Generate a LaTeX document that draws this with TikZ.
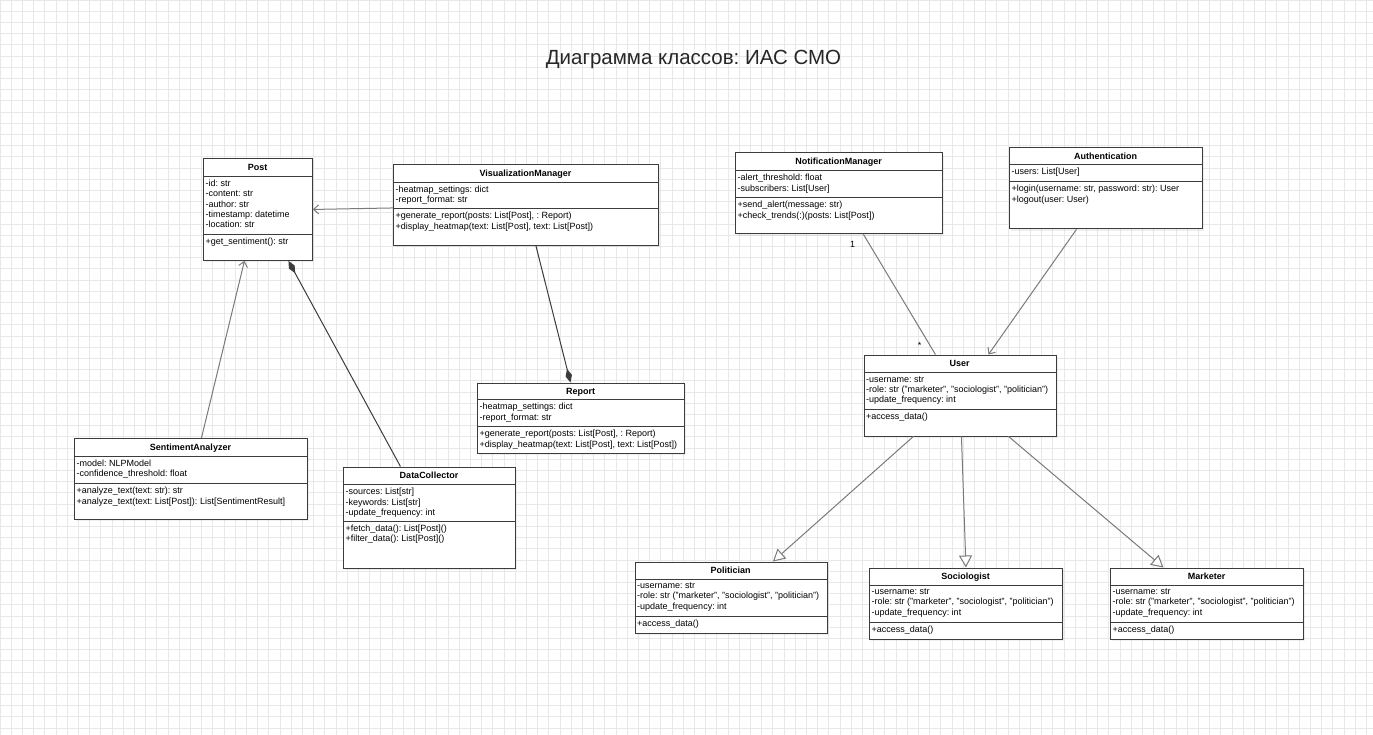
\documentclass[tikz,border=0pt]{standalone}
\usepackage{fontspec}
\setmainfont{Liberation Sans}
\usepackage{xcolor}
\usepackage{tikz}
\usetikzlibrary{
    arrows.meta,
    positioning,
    shadows
}
\frenchspacing
\definecolor{boxline}{HTML}{3C3C3C}
\definecolor{linkgray}{HTML}{7A7A7A}
\definecolor{gridgray}{HTML}{E8E8E8}
\tikzset{
    classbox/.style={
        draw=boxline,
        line width=0.9pt,
        fill=white,
        anchor=north west,
        inner sep=0pt,
        drop shadow={shadow xshift=2pt, shadow yshift=-2pt, opacity=0.12}
    }
}
\tikzset{
    classhead/.style={
        font=\fontsize{9}{10.4}\selectfont\bfseries,
        inner sep=0pt,
        text height=6.5pt,
        text depth=1.9pt,
        yshift=-0.8pt
    }
}
\tikzset{
    classtext/.style={
        font=\fontsize{9}{10.4}\selectfont,
        anchor=north west,
        align=left,
        inner sep=0pt
    }
}
\tikzset{
    sepline/.style={
        draw=boxline,
        line width=0.9pt
    }
}
\tikzset{
    assoc/.style={
        draw=linkgray,
        line width=1pt,
        -{Straight Barb[length=5pt, width=9pt]}
    }
}
\tikzset{
    plainlink/.style={
        draw=linkgray,
        line width=1pt
    }
}
\tikzset{
    composition/.style={
        draw=boxline,
        line width=1pt,
        -{Diamond[length=14pt, width=6.5pt]}
    }
}
\tikzset{
    generalization/.style={
        draw=linkgray,
        line width=1pt,
        -{Triangle[open, length=12pt, width=13pt, fill=white]}
    }
}

\begin{document}
\begin{tikzpicture}[
    x=1pt,
    y=-1pt
]

% ------------------------------------------------------------
% Canvas and grid
% ------------------------------------------------------------

\useasboundingbox (0,0) rectangle (1373,735);
\fill[white] (0,0) rectangle (1373,735);
\draw[gridgray, line width=0.9pt, step=11.2pt] (0,0) grid (1373,735);

\node[font=\fontsize{20.5}{24}\selectfont, text=black!85] (title) at (693.5,59)
    {Диаграмма классов: ИАС СМО};

% ------------------------------------------------------------
% Left part: posts and analysis
% ------------------------------------------------------------

\node[classbox, minimum width=109, minimum height=102] (post) at (203,158) {};
\node[classhead] (posthead) at (257.5,167) {Post};
\draw[sepline] (203,176) -- (312,176);
\draw[sepline] (203,234) -- (312,234);
\node[classtext] (postattr) at (205.5,179.5)
    {-id: str\\-content: str\\-author: str\\-timestamp: datetime\\-location: str};
\node[classtext] (postops) at (205.5,237.5) {+get\_sentiment(): str};

\node[classbox, minimum width=265, minimum height=81] (vizmgr) at (393,164) {};
\node[classhead] (vizmgrhead) at (525.5,173) {VisualizationManager};
\draw[sepline] (393,182) -- (658,182);
\draw[sepline] (393,208.5) -- (658,208.5);
\node[classtext] (vizmgrattr) at (395.5,185.5)
    {-heatmap\_settings: dict\\-report\_format: str};
\node[classtext] (vizmgrops) at (395.5,212)
    {+generate\_report(posts: List[Post], : Report)\\+display\_heatmap(text: List[Post], text: List[Post])};

\node[classbox, minimum width=207, minimum height=70.5] (report) at (477,382.5) {};
\node[classhead] (reporthead) at (580.5,391) {Report};
\draw[sepline] (477,399.5) -- (684,399.5);
\draw[sepline] (477,426.5) -- (684,426.5);
\node[classtext] (reportattr) at (479.5,403)
    {-heatmap\_settings: dict\\-report\_format: str};
\node[classtext] (reportops) at (479.5,430)
    {+generate\_report(posts: List[Post], : Report)\\+display\_heatmap(text: List[Post], text: List[Post])};

\node[classbox, minimum width=233, minimum height=81] (sentiment) at (74,438) {};
\node[classhead] (sentimenthead) at (190.5,447) {SentimentAnalyzer};
\draw[sepline] (74,456) -- (307,456);
\draw[sepline] (74,483.5) -- (307,483.5);
\node[classtext] (sentimentattr) at (76.5,459.5)
    {-model: NLPModel\\-confidence\_threshold: float};
\node[classtext] (sentimentops) at (76.5,487)
    {+analyze\_text(text: str): str\\+analyze\_text(text: List[Post]): List[SentimentResult]};

\node[classbox, minimum width=172, minimum height=101] (collector) at (343,466.5) {};
\node[classhead] (collectorhead) at (429,475.5) {DataCollector};
\draw[sepline] (343,484.5) -- (515,484.5);
\draw[sepline] (343,521) -- (515,521);
\node[classtext] (collectorattr) at (345.5,488)
    {-sources: List[str]\\-keywords: List[str]\\-update\_frequency: int};
\node[classtext] (collectorops) at (345.5,524.5)
    {+fetch\_data(): List[Post]()\\+filter\_data(): List[Post]()};

% ------------------------------------------------------------
% Right part: users and services
% ------------------------------------------------------------

\node[classbox, minimum width=207, minimum height=81] (notifmgr) at (735,152.5) {};
\node[classhead] (notifmgrhead) at (838.5,161.5) {NotificationManager};
\draw[sepline] (735,170.5) -- (942,170.5);
\draw[sepline] (735,197.5) -- (942,197.5);
\node[classtext] (notifmgrattr) at (737.5,174)
    {-alert\_threshold: float\\-subscribers: List[User]};
\node[classtext] (notifmgrops) at (737.5,201)
    {+send\_alert(message: str)\\+check\_trends(:)(posts: List[Post])};

\node[classbox, minimum width=193, minimum height=81] (auth) at (1009,147.5) {};
\node[classhead] (authhead) at (1105.5,156) {Authentication};
\draw[sepline] (1009,164.5) -- (1202,164.5);
\draw[sepline] (1009,181.5) -- (1202,181.5);
\node[classtext] (authattr) at (1011.5,168) {-users: List[User]};
\node[classtext] (authops) at (1011.5,185)
    {+login(username: str, password: str): User\\+logout(user: User)};

\node[classbox, minimum width=192, minimum height=81] (user) at (863.5,354.5) {};
\node[classhead] (userhead) at (959.5,363.5) {User};
\draw[sepline] (863.5,372.5) -- (1055.5,372.5);
\draw[sepline] (863.5,409.5) -- (1055.5,409.5);
\node[classtext] (userattr) at (866,376)
    {-username: str\\-role: str ("marketer", "sociologist", "politician")\\-update\_frequency: int};
\node[classtext] (userops) at (866,413) {+access\_data()};

\node[classbox, minimum width=192, minimum height=71] (politician) at (634.5,561.5) {};
\node[classhead] (politicianhead) at (730.5,570.5) {Politician};
\draw[sepline] (634.5,579) -- (826.5,579);
\draw[sepline] (634.5,616) -- (826.5,616);
\node[classtext] (politicianattr) at (637,582.5)
    {-username: str\\-role: str ("marketer", "sociologist", "politician")\\-update\_frequency: int};
\node[classtext] (politicianops) at (637,619.5) {+access\_data()};

\node[classbox, minimum width=193, minimum height=71] (sociologist) at (869,567.5) {};
\node[classhead] (sociologisthead) at (965.5,576.5) {Sociologist};
\draw[sepline] (869,585) -- (1062,585);
\draw[sepline] (869,622) -- (1062,622);
\node[classtext] (sociologistattr) at (871.5,588.5)
    {-username: str\\-role: str ("marketer", "sociologist", "politician")\\-update\_frequency: int};
\node[classtext] (sociologistops) at (871.5,625.5) {+access\_data()};

\node[classbox, minimum width=193, minimum height=71] (marketer) at (1110,567.5) {};
\node[classhead] (marketerhead) at (1206.5,576.5) {Marketer};
\draw[sepline] (1110,585) -- (1303,585);
\draw[sepline] (1110,622) -- (1303,622);
\node[classtext] (marketerattr) at (1112.5,588.5)
    {-username: str\\-role: str ("marketer", "sociologist", "politician")\\-update\_frequency: int};
\node[classtext] (marketerops) at (1112.5,625.5) {+access\_data()};

% ------------------------------------------------------------
% Relations
% ------------------------------------------------------------

\draw[assoc] ([yshift=-3pt]vizmgr.west) -- (post.east);
\draw[assoc] ([xshift=10.5pt]sentiment.north) -- ([xshift=-13.5pt]post.south);
\draw[composition] ([xshift=-29pt]collector.north) -- ([xshift=30.5pt]post.south);
\draw[composition] ([xshift=10pt]vizmgr.south) -- ([xshift=-10.5pt]report.north);

\draw[plainlink] ([xshift=24.5pt]notifmgr.south) -- ([xshift=-24.5pt]user.north);
\node[font=\fontsize{9}{10}\selectfont] (multone) at (852.5,244.5) {1};
\node[font=\fontsize{9}{10}\selectfont] (multmany) at (919.5,345) {*};
\draw[assoc] ([xshift=-29.5pt]auth.south) -- ([xshift=28.5pt]user.north);

\draw[generalization] ([xshift=-46.5pt]user.south) -- ([xshift=42pt]politician.north);
\draw[generalization] ([xshift=1.5pt]user.south) -- (sociologist.north);
\draw[generalization] ([xshift=48.5pt]user.south) -- ([xshift=-43.5pt]marketer.north);

\end{tikzpicture}
\end{document}
